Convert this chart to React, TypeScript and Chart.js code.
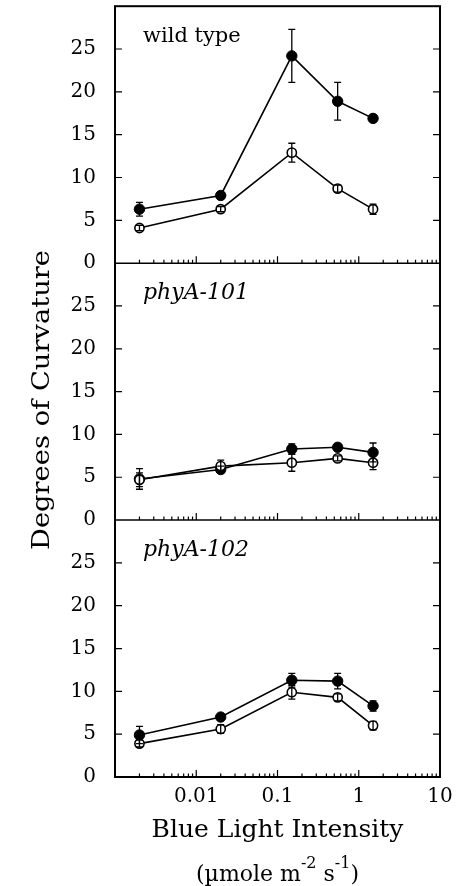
import React, { useEffect, useRef } from "react";
import { Chart, registerables } from "chart.js";

Chart.register(...registerables);

// ---- data ----
const intensities = [0.002, 0.02, 0.15, 0.55, 1.5];
const panelLabels = ["wild type", "phyA-101", "phyA-102"];
const xTickValues = [0.01, 0.1, 1, 10];
const xTickLabels = ["0.01", "0.1", "1", "10"];
const yTickValues = [0, 5, 10, 15, 20, 25];
const yTickLabels = ["0", "5", "10", "15", "20", "25"];

const wtFilled = [6.3, 7.9, 24.2, 18.9, 16.9];
const wtFilledErr = [0.8, 0.3, 3.1, 2.2, 0.4];
const wtOpen = [4.1, 6.3, 12.9, 8.7, 6.3];
const wtOpenErr = [0.3, 0.3, 1.1, 0.4, 0.6];

const p101Filled = [4.8, 5.9, 8.3, 8.5, 7.9];
const p101FilledErr = [1.2, 0.4, 0.6, 0.4, 1.1];
const p101Open = [4.7, 6.3, 6.7, 7.2, 6.7];
const p101OpenErr = [0.8, 0.7, 1.0, 0.3, 0.8];

const p102Filled = [4.9, 7.0, 11.3, 11.2, 8.3];
const p102FilledErr = [1.0, 0.3, 0.8, 0.9, 0.6];
const p102Open = [3.9, 5.6, 9.9, 9.3, 6.0];
const p102OpenErr = [0.4, 0.5, 0.8, 0.4, 0.5];

const yAxisTitle = "Degrees of Curvature";
const xAxisTitle = "Blue Light Intensity";

const FONT = "'DejaVu Serif', serif";
const panelAxes = ["yA", "yB", "yC"];

function mkDataset(values: number[], errs: number[], axis: string, filled: boolean) {
  return {
    data: values.map((v, i) => ({ x: intensities[i], y: v })),
    errs,
    yAxisID: axis,
    borderColor: "#000",
    borderWidth: 1.6,
    backgroundColor: filled ? "#000" : "#fff",
    pointBackgroundColor: filled ? "#000" : "#fff",
    pointBorderColor: "#000",
    pointBorderWidth: filled ? 1 : 1.6,
    pointRadius: filled ? 5.2 : 4.6,
    pointStyle: "circle",
    tension: 0,
    fill: false,
  };
}

const errorBarPlugin = {
  id: "errorBars",
  afterDatasetsDraw(chart: any) {
    const ctx = chart.ctx;
    ctx.save();
    ctx.strokeStyle = "#000";
    ctx.lineWidth = 1.3;
    chart.data.datasets.forEach((ds: any, di: number) => {
      const meta = chart.getDatasetMeta(di);
      const ys = chart.scales[ds.yAxisID];
      meta.data.forEach((pt: any, i: number) => {
        const v = ds.data[i].y;
        const e = ds.errs[i];
        const top = ys.getPixelForValue(v + e);
        const bot = ys.getPixelForValue(v - e);
        const x = pt.x;
        const cap = 3.5;
        ctx.beginPath();
        ctx.moveTo(x, top);
        ctx.lineTo(x, bot);
        ctx.moveTo(x - cap, top);
        ctx.lineTo(x + cap, top);
        ctx.moveTo(x - cap, bot);
        ctx.lineTo(x + cap, bot);
        ctx.stroke();
      });
    });
    ctx.restore();
  },
};

function fillStretched(ctx: any, text: string, x: number, y: number, targetWidth: number) {
  const w = ctx.measureText(text).width;
  ctx.save();
  ctx.translate(x, y);
  ctx.scale(targetWidth / w, 1);
  ctx.fillText(text, 0, 0);
  ctx.restore();
}

const framePlugin = {
  id: "frame",
  afterDraw(chart: any) {
    const ctx = chart.ctx;
    const ca = chart.chartArea;
    const xs = chart.scales.x;
    ctx.save();
    ctx.strokeStyle = "#000";
    ctx.fillStyle = "#000";
    // outer box
    ctx.lineWidth = 2;
    ctx.strokeRect(ca.left, ca.top, ca.right - ca.left, ca.bottom - ca.top);
    ctx.lineWidth = 1.5;
    panelAxes.forEach((id, pi) => {
      const ys = chart.scales[id];
      const bottom = ys.getPixelForValue(0);
      // separator
      ctx.lineWidth = 1.5;
      ctx.beginPath();
      ctx.moveTo(ca.left, bottom);
      ctx.lineTo(ca.right, bottom);
      ctx.stroke();
      // x ticks
      ctx.lineWidth = 1.2;
      ctx.beginPath();
      for (let d = -3; d < 1; d++) {
        for (let m = 1; m <= 9; m++) {
          const v = m * Math.pow(10, d);
          if (v <= 0.001 + 1e-9) continue;
          const px = xs.getPixelForValue(v);
          const len = m === 1 ? 7 : 3.5;
          ctx.moveTo(px, bottom);
          ctx.lineTo(px, bottom - len);
        }
      }
      ctx.stroke();
      // y ticks
      ctx.beginPath();
      yTickValues.forEach((v) => {
        if (v === 0) return;
        const py = ys.getPixelForValue(v);
        ctx.moveTo(ca.left, py);
        ctx.lineTo(ca.left + 7, py);
        ctx.moveTo(ca.right, py);
        ctx.lineTo(ca.right - 7, py);
      });
      ctx.stroke();
      // panel label
      const topPx = ys.getPixelForValue(30);
      ctx.font = (pi === 0 ? "" : "italic ") + (pi === 0 ? "21px " : "22px ") + FONT;
      ctx.textAlign = "left";
      ctx.textBaseline = "alphabetic";
      ctx.fillText(panelLabels[pi], ca.left + 28, topPx + 36);
    });

    // y axis title
    ctx.save();
    ctx.translate(43, 400);
    ctx.rotate(-Math.PI / 2);
    ctx.font = "24px " + FONT;
    ctx.textAlign = "left";
    ctx.textBaseline = "middle";
    fillStretched(ctx, yAxisTitle, -150, 0, 300);
    ctx.restore();

    // x axis title
    const cx = (ca.left + ca.right) / 2;
    ctx.font = "25px " + FONT;
    ctx.textAlign = "center";
    ctx.textBaseline = "alphabetic";
    ctx.fillText(xAxisTitle, cx, 837);

    // units subtitle with superscripts
    const parts = [
      { t: "(\u00b5mole m", sup: false },
      { t: "-2", sup: true },
      { t: " s", sup: false },
      { t: "-1", sup: true },
      { t: ")", sup: false },
    ];
    const normFont = "22px " + FONT;
    const supFont = "16px " + FONT;
    let total = 0;
    parts.forEach((p) => {
      ctx.font = p.sup ? supFont : normFont;
      total += ctx.measureText(p.t).width;
    });
    let x0 = cx - total / 2;
    ctx.textAlign = "left";
    parts.forEach((p) => {
      ctx.font = p.sup ? supFont : normFont;
      ctx.fillText(p.t, x0, p.sup ? 868 : 881);
      x0 += ctx.measureText(p.t).width;
    });
    ctx.restore();
  },
};

function yAxis(id: string) {
  return {
    type: "linear",
    position: "left",
    stack: "panels",
    stackWeight: 1,
    min: 0,
    max: 30,
    grid: { display: false },
    border: { display: false },
    afterBuildTicks: (s: any) => {
      s.ticks = yTickValues.map((v) => ({ value: v }));
    },
    afterFit: (s: any) => {
      s.width = 115;
      s.paddingTop = 0;
      s.paddingBottom = 0;
    },
    ticks: {
      color: "#000",
      font: { family: FONT, size: 20 },
      padding: 11,
      callback: (v: number) => yTickLabels[yTickValues.indexOf(v)] ?? "",
    },
  };
}

export default function App() {
  const ref = useRef<HTMLCanvasElement | null>(null);
  useEffect(() => {
    if (!ref.current) return;
    const chart = new Chart(ref.current, {
      type: "line",
      data: {
        datasets: [
          mkDataset(wtOpen, wtOpenErr, "yA", false),
          mkDataset(wtFilled, wtFilledErr, "yA", true),
          mkDataset(p101Open, p101OpenErr, "yB", false),
          mkDataset(p101Filled, p101FilledErr, "yB", true),
          mkDataset(p102Open, p102OpenErr, "yC", false),
          mkDataset(p102Filled, p102FilledErr, "yC", true),
        ] as any,
      },
      options: {
        animation: false,
        responsive: false,
        events: [],
        layout: { padding: { top: 6, right: 18, bottom: 0, left: 0 } },
        plugins: { legend: { display: false }, tooltip: { enabled: false } },
        scales: {
          x: {
            type: "logarithmic",
            min: 0.001,
            max: 10,
            position: "bottom",
            grid: { display: false },
            border: { display: false },
            afterBuildTicks: (s: any) => {
              s.ticks = xTickValues.map((v) => ({ value: v }));
            },
            afterFit: (s: any) => {
              s.height = 109;
              s.paddingLeft = 0;
              s.paddingRight = 0;
            },
            ticks: {
              color: "#000",
              font: { family: FONT, size: 20 },
              padding: 0,
              autoSkip: false,
              maxRotation: 0,
              callback: (v: number) => xTickLabels[xTickValues.indexOf(v)] ?? "",
            },
          },
          yC: yAxis("yC"),
          yB: yAxis("yB"),
          yA: yAxis("yA"),
        } as any,
      },
      plugins: [errorBarPlugin, framePlugin],
    });
    return () => chart.destroy();
  }, []);
  return (
    <div style={{ position: "fixed", left: 0, top: 0, width: 458, height: 886, background: "#fff" }}>
      <canvas ref={ref} width={458} height={886} style={{ width: 458, height: 886, display: "block" }} />
    </div>
  );
}
